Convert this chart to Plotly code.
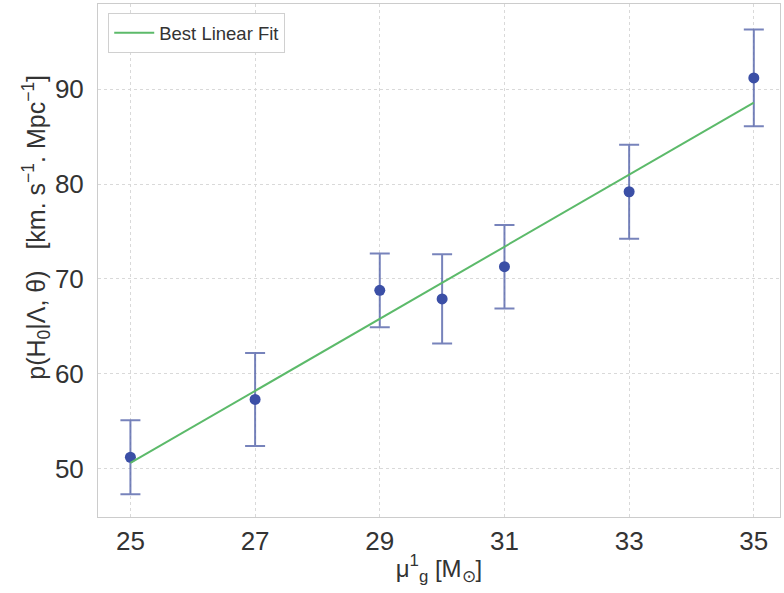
import plotly.graph_objects as go

# Data
mu_g = [25, 27, 29, 30, 31, 33, 35]
h0 = [51.2, 57.3, 68.8, 67.9, 71.3, 79.2, 91.2]
h0_err = [3.9, 4.9, 3.9, 4.7, 4.4, 4.95, 5.1]

fit_x = [25, 35]
fit_y = [50.6, 88.6]

x_ticks = [25, 27, 29, 31, 33, 35]
y_ticks = [50, 60, 70, 80, 90]

x_title = "μ<sup>1</sup><sub>g</sub> [M<sub>⊙</sub>]"
y_title = "p(H<sub>0</sub>|Λ, θ)   [km. s<sup>−1</sup>. Mpc<sup>−1</sup>]"

FONT = "Liberation Sans, Arial, sans-serif"
TXT = "#333333"

fig = go.Figure()
fig.add_trace(go.Scatter(
    x=mu_g, y=h0, mode="markers",
    marker=dict(size=11, color="#3b4fa6"),
    error_y=dict(type="data", array=h0_err, visible=True,
                 color="rgba(85,100,170,0.8)", thickness=2, width=10),
    showlegend=False,
))
fig.add_trace(go.Scatter(
    x=fit_x, y=fit_y, mode="lines",
    line=dict(color="#5cba6a", width=2),
    name="Best Linear Fit",
))

fig.update_layout(
    width=784, height=593,
    margin=dict(l=98, r=4, t=4, b=76),
    paper_bgcolor="white", plot_bgcolor="white",
    font=dict(family=FONT, color=TXT),
    legend=dict(x=0.015, y=0.982, xanchor="left", yanchor="top",
                bgcolor="white", bordercolor="#d0d0d0", borderwidth=1,
                itemwidth=40, tracegroupgap=0,
                font=dict(size=18.5, color=TXT)),
)
fig.add_annotation(
    text=y_title, textangle=-90, showarrow=False,
    xref="paper", yref="paper", x=-0.09, y=0.565,
    xanchor="center", yanchor="middle",
    font=dict(size=25, color=TXT, family=FONT),
)
fig.update_xaxes(
    range=[24.48, 35.42], tickvals=x_ticks, ticktext=[str(v) for v in x_ticks],
    tickfont=dict(size=26, color=TXT),
    showgrid=True, gridcolor="#d9d9d9", griddash="dot", gridwidth=1,
    showline=True, linecolor="#cccccc", linewidth=1, mirror=True,
    ticks="outside", tickcolor="white", ticklen=1, zeroline=False,
    title=dict(text=x_title, font=dict(size=24, color=TXT), standoff=4),
)
fig.update_yaxes(
    range=[44.9, 99.0], tickvals=y_ticks, ticktext=[str(v) for v in y_ticks],
    tickfont=dict(size=26, color=TXT),
    showgrid=True, gridcolor="#d9d9d9", griddash="dot", gridwidth=1,
    showline=True, linecolor="#cccccc", linewidth=1, mirror=True,
    ticks="outside", tickcolor="white", ticklen=8, zeroline=False,
)

fig.write_html("out.html")
